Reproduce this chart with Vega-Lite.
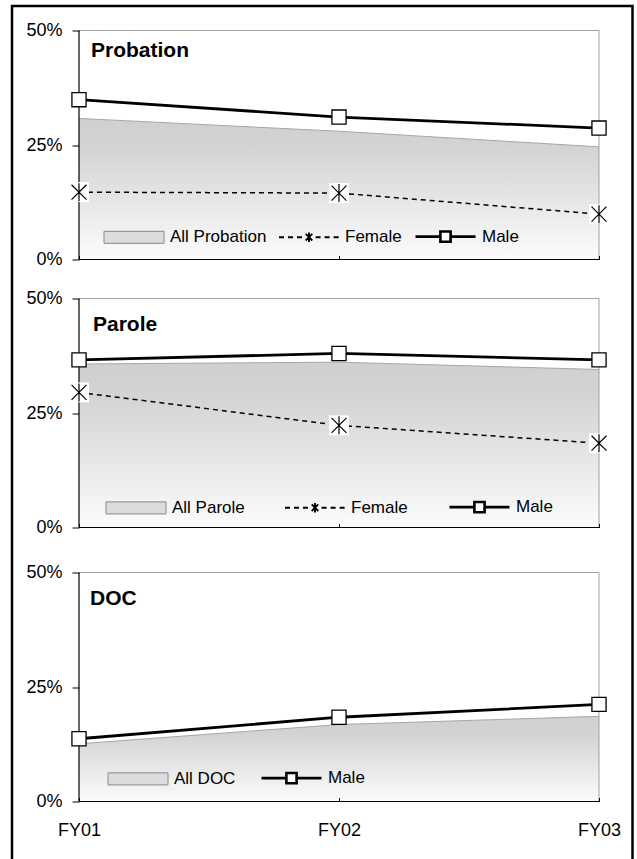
{
  "$schema": "https://vega.github.io/schema/vega-lite/v6.json",
  "padding": {"left": 12, "top": 5.5, "right": 0, "bottom": 0},
  "background": "white",
  "spacing": 21,
  "resolve": {"scale": {"fill": "independent", "stroke": "independent", "shape": "independent", "strokeDash": "independent", "strokeWidth": "independent"}},
  "data": {"values": [
    {"panel": "Probation", "kind": "All", "series": "All Probation", "year": "FY01", "value": 0.308},
    {"panel": "Probation", "kind": "All", "series": "All Probation", "year": "FY02", "value": 0.280},
    {"panel": "Probation", "kind": "All", "series": "All Probation", "year": "FY03", "value": 0.246},
    {"panel": "Probation", "kind": "Female", "series": "Female", "year": "FY01", "value": 0.147},
    {"panel": "Probation", "kind": "Female", "series": "Female", "year": "FY02", "value": 0.145},
    {"panel": "Probation", "kind": "Female", "series": "Female", "year": "FY03", "value": 0.099},
    {"panel": "Probation", "kind": "Male", "series": "Male", "year": "FY01", "value": 0.349},
    {"panel": "Probation", "kind": "Male", "series": "Male", "year": "FY02", "value": 0.311},
    {"panel": "Probation", "kind": "Male", "series": "Male", "year": "FY03", "value": 0.287},
    {"panel": "Parole", "kind": "All", "series": "All Parole", "year": "FY01", "value": 0.357},
    {"panel": "Parole", "kind": "All", "series": "All Parole", "year": "FY02", "value": 0.361},
    {"panel": "Parole", "kind": "All", "series": "All Parole", "year": "FY03", "value": 0.345},
    {"panel": "Parole", "kind": "Female", "series": "Female", "year": "FY01", "value": 0.295},
    {"panel": "Parole", "kind": "Female", "series": "Female", "year": "FY02", "value": 0.223},
    {"panel": "Parole", "kind": "Female", "series": "Female", "year": "FY03", "value": 0.184},
    {"panel": "Parole", "kind": "Male", "series": "Male", "year": "FY01", "value": 0.366},
    {"panel": "Parole", "kind": "Male", "series": "Male", "year": "FY02", "value": 0.380},
    {"panel": "Parole", "kind": "Male", "series": "Male", "year": "FY03", "value": 0.366},
    {"panel": "DOC", "kind": "All", "series": "All DOC", "year": "FY01", "value": 0.126},
    {"panel": "DOC", "kind": "All", "series": "All DOC", "year": "FY02", "value": 0.168},
    {"panel": "DOC", "kind": "All", "series": "All DOC", "year": "FY03", "value": 0.186},
    {"panel": "DOC", "kind": "Male", "series": "Male", "year": "FY01", "value": 0.137},
    {"panel": "DOC", "kind": "Male", "series": "Male", "year": "FY02", "value": 0.184},
    {"panel": "DOC", "kind": "Male", "series": "Male", "year": "FY03", "value": 0.212}
  ]},
  "vconcat": [
    {
      "width": 520, "height": 229,
      "title": {"text": "Probation", "anchor": "start", "frame": "group", "orient": "top", "offset": -72, "dx": 12, "fontSize": 21, "fontWeight": "bold", "color": "black", "baseline": "alphabetic"},
      "layer": [
        {"transform": [{"filter": "datum.panel === 'Probation' && datum.kind === 'All'"}],
         "mark": {"type": "area", "fill": {"x1": 0, "y1": 0, "x2": 0, "y2": 1, "gradient": "linear", "stops": [{"offset": 0, "color": "#bcbcbc"}, {"offset": 0.2, "color": "#c0c0c0"}, {"offset": 1, "color": "#fafafa"}]}, "line": {"color": "#a6a6a6", "strokeWidth": 1}},
         "encoding": {
           "x": {"field": "year", "type": "ordinal", "scale": {"type": "point", "padding": 0, "domain": ["FY01", "FY02", "FY03"]}, "axis": {"orient": "bottom", "labels": false, "ticks": true, "tickSize": 4, "offset": -4, "title": null, "zindex": 1, "domain": false, "grid": false}},
           "y": {"field": "value", "type": "quantitative", "scale": {"domain": [0, 0.5], "nice": false, "zero": false}, "axis": {"orient": "left", "values": [0, 0.25, 0.5], "format": ".0%", "tickSize": 7, "labelPadding": 10, "title": " ", "titleFontSize": 1, "titleAngle": 0, "titleAlign": "left", "titleBaseline": "bottom", "titleX": -67, "titleY": -23.5, "domain": false, "grid": false}}
         }},
        {"data": {"values": [{}]}, "mark": {"type": "rule", "color": "#a0a0a0", "strokeWidth": 1},
         "encoding": {"x": {"datum": "FY01", "type": "ordinal"}, "x2": {"datum": "FY03"}, "y": {"datum": 0.5, "type": "quantitative"}}},
        {"data": {"values": [{}]}, "mark": {"type": "rule", "color": "#a0a0a0", "strokeWidth": 1},
         "encoding": {"x": {"datum": "FY03", "type": "ordinal"}, "y": {"datum": 0, "type": "quantitative"}, "y2": {"datum": 0.5}}},
        {"data": {"values": [{}]}, "mark": {"type": "rule", "color": "black", "strokeWidth": 1.2},
         "encoding": {"x": {"datum": "FY01", "type": "ordinal"}, "y": {"datum": 0, "type": "quantitative"}, "y2": {"datum": 0.5}}},
        {"data": {"values": [{}]}, "mark": {"type": "rule", "color": "black", "strokeWidth": 1.2},
         "encoding": {"x": {"datum": "FY01", "type": "ordinal"}, "x2": {"datum": "FY03"}, "y": {"datum": 0, "type": "quantitative"}}},
        {"transform": [{"filter": "datum.panel === 'Probation' && datum.kind === 'Female'"}],
         "mark": {"type": "line", "color": "black", "strokeWidth": 1.5, "strokeDash": [5, 4]},
         "encoding": {"x": {"field": "year", "type": "ordinal"}, "y": {"field": "value", "type": "quantitative"}}},
        {"transform": [{"filter": "datum.panel === 'Probation' && datum.kind === 'Male'"}],
         "mark": {"type": "line", "color": "black", "strokeWidth": 2.8},
         "encoding": {"x": {"field": "year", "type": "ordinal"}, "y": {"field": "value", "type": "quantitative"}}},
        {"transform": [{"filter": "datum.panel === 'Probation' && datum.kind === 'Female'"}],
         "mark": {"type": "point", "shape": "square", "size": 400, "filled": true, "fill": "white", "strokeWidth": 0, "opacity": 1},
         "encoding": {"x": {"field": "year", "type": "ordinal"}, "y": {"field": "value", "type": "quantitative"}}},
        {"transform": [{"filter": "datum.panel === 'Probation' && datum.kind === 'Female'"}],
         "mark": {"type": "point", "shape": "M-0.83,-0.83L0.83,0.83M-0.83,0.83L0.83,-0.83M0,-1L0,1", "size": 324, "filled": false, "stroke": "black", "strokeWidth": 1.2, "opacity": 1},
         "encoding": {"x": {"field": "year", "type": "ordinal"}, "y": {"field": "value", "type": "quantitative"}}},
        {"transform": [{"filter": "datum.panel === 'Probation' && datum.kind === 'Male'"}],
         "mark": {"type": "point", "shape": "square", "size": 200, "filled": true, "fill": "white", "stroke": "black", "strokeWidth": 1.3, "opacity": 1},
         "encoding": {"x": {"field": "year", "type": "ordinal"}, "y": {"field": "value", "type": "quantitative"}}},
        {"transform": [{"filter": "datum.panel === 'none'"}],
         "mark": {"type": "point", "opacity": 1},
         "encoding": {
           "x": {"field": "year", "type": "ordinal"},
           "y": {"field": "value", "type": "quantitative"},
           "fill": {"field": "series", "type": "nominal", "scale": {"domain": ["All Probation", "Female", "Male"], "range": ["#dcdcdc", "white", "white"]}, "legend": {"title": null, "orient": "none", "legendX": 24, "legendY": 174.5, "direction": "horizontal", "columnPadding": 8, "padding": 0}},
           "stroke": {"field": "series", "type": "nominal", "scale": {"domain": ["All Probation", "Female", "Male"], "range": ["#999999", "black", "black"]}, "legend": {"title": null, "orient": "none", "legendX": 24, "legendY": 174.5, "direction": "horizontal", "columnPadding": 8, "padding": 0}},
           "shape": {"field": "series", "type": "nominal", "scale": {"domain": ["All Probation", "Female", "Male"], "range": ["M-1,-0.2H1V0.2H-1Z", "M-1,0H-0.22M0.22,0H1M0,0L0.11,0.11M0,0L-0.11,0.11M0,0L0.11,-0.11M0,0L-0.11,-0.11M0,0L0,0.16M0,0L0,-0.16", "M-1,0H-0.17M0.17,0H1M-0.17,-0.17H0.17V0.17H-0.17Z"]}, "legend": {"title": null, "orient": "none", "legendX": 24, "legendY": 174.5, "direction": "horizontal", "columnPadding": 8, "padding": 0}},
           "strokeDash": {"field": "series", "type": "nominal", "scale": {"domain": ["All Probation", "Female", "Male"], "range": [[1, 0], [5, 4], [1, 0]]}, "legend": {"title": null, "orient": "none", "legendX": 24, "legendY": 174.5, "direction": "horizontal", "columnPadding": 8, "padding": 0}},
           "strokeWidth": {"field": "series", "type": "nominal", "scale": {"domain": ["All Probation", "Female", "Male"], "range": [1.2, 2.6]}, "legend": {"title": null, "orient": "none", "legendX": 24, "legendY": 174.5, "direction": "horizontal", "columnPadding": 8, "padding": 0}}
         }},
        {"transform": [{"filter": "datum.panel === 'none'"}],
         "mark": {"type": "point", "opacity": 1},
         "encoding": {
           "x": {"field": "year", "type": "ordinal"},
           "y": {"field": "value", "type": "quantitative"},
           "color": {"field": "value", "type": "quantitative", "scale": {"domain": [0, 1], "range": ["rgba(255,255,255,0)", "rgba(255,255,255,0)"]}, "legend": {"title": null, "orient": "none", "legendX": -67, "legendY": -24.5, "direction": "vertical", "gradientLength": 870, "gradientThickness": 620.5, "gradientStrokeColor": "black", "gradientStrokeWidth": 2.5, "labelOpacity": 0, "labelFontSize": 1, "labelExpr": "''", "tickCount": 2, "padding": 0, "labelOverlap": false}}
         }}
      ]
    },
    {
      "width": 520, "height": 229,
      "title": {"text": "Parole", "anchor": "start", "frame": "group", "orient": "top", "offset": -62.4, "dx": 14, "fontSize": 21, "fontWeight": "bold", "color": "black", "baseline": "alphabetic"},
      "layer": [
        {"transform": [{"filter": "datum.panel === 'Parole' && datum.kind === 'All'"}],
         "mark": {"type": "area", "fill": {"x1": 0, "y1": 0, "x2": 0, "y2": 1, "gradient": "linear", "stops": [{"offset": 0, "color": "#bcbcbc"}, {"offset": 0.2, "color": "#c0c0c0"}, {"offset": 1, "color": "#fafafa"}]}, "line": {"color": "#a6a6a6", "strokeWidth": 1}},
         "encoding": {
           "x": {"field": "year", "type": "ordinal", "scale": {"type": "point", "padding": 0, "domain": ["FY01", "FY02", "FY03"]}, "axis": {"orient": "bottom", "labels": false, "ticks": true, "tickSize": 4, "offset": -4, "title": null, "zindex": 1, "domain": false, "grid": false}},
           "y": {"field": "value", "type": "quantitative", "scale": {"domain": [0, 0.5], "nice": false, "zero": false}, "axis": {"orient": "left", "values": [0, 0.25, 0.5], "format": ".0%", "tickSize": 7, "labelPadding": 10, "title": " ", "titleFontSize": 1, "titleAngle": 0, "titleAlign": "left", "titleBaseline": "bottom", "titleX": -67, "titleY": 243.5, "domain": false, "grid": false}}
         }},
        {"data": {"values": [{}]}, "mark": {"type": "rule", "color": "#a0a0a0", "strokeWidth": 1},
         "encoding": {"x": {"datum": "FY01", "type": "ordinal"}, "x2": {"datum": "FY03"}, "y": {"datum": 0.5, "type": "quantitative"}}},
        {"data": {"values": [{}]}, "mark": {"type": "rule", "color": "#a0a0a0", "strokeWidth": 1},
         "encoding": {"x": {"datum": "FY03", "type": "ordinal"}, "y": {"datum": 0, "type": "quantitative"}, "y2": {"datum": 0.5}}},
        {"data": {"values": [{}]}, "mark": {"type": "rule", "color": "black", "strokeWidth": 1.2},
         "encoding": {"x": {"datum": "FY01", "type": "ordinal"}, "y": {"datum": 0, "type": "quantitative"}, "y2": {"datum": 0.5}}},
        {"data": {"values": [{}]}, "mark": {"type": "rule", "color": "black", "strokeWidth": 1.2},
         "encoding": {"x": {"datum": "FY01", "type": "ordinal"}, "x2": {"datum": "FY03"}, "y": {"datum": 0, "type": "quantitative"}}},
        {"transform": [{"filter": "datum.panel === 'Parole' && datum.kind === 'Female'"}],
         "mark": {"type": "line", "color": "black", "strokeWidth": 1.5, "strokeDash": [5, 4]},
         "encoding": {"x": {"field": "year", "type": "ordinal"}, "y": {"field": "value", "type": "quantitative"}}},
        {"transform": [{"filter": "datum.panel === 'Parole' && datum.kind === 'Male'"}],
         "mark": {"type": "line", "color": "black", "strokeWidth": 2.8},
         "encoding": {"x": {"field": "year", "type": "ordinal"}, "y": {"field": "value", "type": "quantitative"}}},
        {"transform": [{"filter": "datum.panel === 'Parole' && datum.kind === 'Female'"}],
         "mark": {"type": "point", "shape": "square", "size": 400, "filled": true, "fill": "white", "strokeWidth": 0, "opacity": 1},
         "encoding": {"x": {"field": "year", "type": "ordinal"}, "y": {"field": "value", "type": "quantitative"}}},
        {"transform": [{"filter": "datum.panel === 'Parole' && datum.kind === 'Female'"}],
         "mark": {"type": "point", "shape": "M-0.83,-0.83L0.83,0.83M-0.83,0.83L0.83,-0.83M0,-1L0,1", "size": 324, "filled": false, "stroke": "black", "strokeWidth": 1.2, "opacity": 1},
         "encoding": {"x": {"field": "year", "type": "ordinal"}, "y": {"field": "value", "type": "quantitative"}}},
        {"transform": [{"filter": "datum.panel === 'Parole' && datum.kind === 'Male'"}],
         "mark": {"type": "point", "shape": "square", "size": 200, "filled": true, "fill": "white", "stroke": "black", "strokeWidth": 1.3, "opacity": 1},
         "encoding": {"x": {"field": "year", "type": "ordinal"}, "y": {"field": "value", "type": "quantitative"}}},
        {"transform": [{"filter": "datum.panel === 'none'"}],
         "mark": {"type": "point", "opacity": 1},
         "encoding": {
           "x": {"field": "year", "type": "ordinal"},
           "y": {"field": "value", "type": "quantitative"},
           "fill": {"field": "series", "type": "nominal", "scale": {"domain": ["All Parole", "Female", "Male"], "range": ["#dcdcdc", "white", "white"]}, "legend": {"title": null, "orient": "none", "legendX": 26, "legendY": 177, "direction": "horizontal", "columnPadding": 36, "padding": 0}},
           "stroke": {"field": "series", "type": "nominal", "scale": {"domain": ["All Parole", "Female", "Male"], "range": ["#999999", "black", "black"]}, "legend": {"title": null, "orient": "none", "legendX": 26, "legendY": 177, "direction": "horizontal", "columnPadding": 36, "padding": 0}},
           "shape": {"field": "series", "type": "nominal", "scale": {"domain": ["All Parole", "Female", "Male"], "range": ["M-1,-0.2H1V0.2H-1Z", "M-1,0H-0.22M0.22,0H1M0,0L0.11,0.11M0,0L-0.11,0.11M0,0L0.11,-0.11M0,0L-0.11,-0.11M0,0L0,0.16M0,0L0,-0.16", "M-1,0H-0.17M0.17,0H1M-0.17,-0.17H0.17V0.17H-0.17Z"]}, "legend": {"title": null, "orient": "none", "legendX": 26, "legendY": 177, "direction": "horizontal", "columnPadding": 36, "padding": 0}},
           "strokeDash": {"field": "series", "type": "nominal", "scale": {"domain": ["All Parole", "Female", "Male"], "range": [[1, 0], [5, 4], [1, 0]]}, "legend": {"title": null, "orient": "none", "legendX": 26, "legendY": 177, "direction": "horizontal", "columnPadding": 36, "padding": 0}},
           "strokeWidth": {"field": "series", "type": "nominal", "scale": {"domain": ["All Parole", "Female", "Male"], "range": [1.2, 2.6]}, "legend": {"title": null, "orient": "none", "legendX": 26, "legendY": 177, "direction": "horizontal", "columnPadding": 36, "padding": 0}}
         }}
      ]
    },
    {
      "width": 520, "height": 229,
      "title": {"text": "DOC", "anchor": "start", "frame": "group", "orient": "top", "offset": -62.3, "dx": 11, "fontSize": 21, "fontWeight": "bold", "color": "black", "baseline": "alphabetic"},
      "layer": [
        {"transform": [{"filter": "datum.panel === 'DOC' && datum.kind === 'All'"}],
         "mark": {"type": "area", "fill": {"x1": 0, "y1": 0, "x2": 0, "y2": 1, "gradient": "linear", "stops": [{"offset": 0, "color": "#bcbcbc"}, {"offset": 0.2, "color": "#c0c0c0"}, {"offset": 1, "color": "#fafafa"}]}, "line": {"color": "#a6a6a6", "strokeWidth": 1}},
         "encoding": {
           "x": {"field": "year", "type": "ordinal", "scale": {"type": "point", "padding": 0, "domain": ["FY01", "FY02", "FY03"]}, "axis": {"orient": "bottom", "labels": true, "labelAngle": 0, "labelPadding": 20, "ticks": true, "tickSize": 4, "offset": -4, "title": null, "zindex": 1, "domain": false, "grid": false}},
           "y": {"field": "value", "type": "quantitative", "scale": {"domain": [0, 0.5], "nice": false, "zero": false}, "axis": {"orient": "left", "values": [0, 0.25, 0.5], "format": ".0%", "tickSize": 7, "labelPadding": 10, "title": " ", "titleFontSize": 1, "titleAngle": 0, "titleAlign": "left", "titleBaseline": "bottom", "titleX": -67, "titleY": 0, "domain": false, "grid": false}}
         }},
        {"data": {"values": [{}]}, "mark": {"type": "rule", "color": "#a0a0a0", "strokeWidth": 1},
         "encoding": {"x": {"datum": "FY01", "type": "ordinal"}, "x2": {"datum": "FY03"}, "y": {"datum": 0.5, "type": "quantitative"}}},
        {"data": {"values": [{}]}, "mark": {"type": "rule", "color": "#a0a0a0", "strokeWidth": 1},
         "encoding": {"x": {"datum": "FY03", "type": "ordinal"}, "y": {"datum": 0, "type": "quantitative"}, "y2": {"datum": 0.5}}},
        {"data": {"values": [{}]}, "mark": {"type": "rule", "color": "black", "strokeWidth": 1.2},
         "encoding": {"x": {"datum": "FY01", "type": "ordinal"}, "y": {"datum": 0, "type": "quantitative"}, "y2": {"datum": 0.5}}},
        {"data": {"values": [{}]}, "mark": {"type": "rule", "color": "black", "strokeWidth": 1.2},
         "encoding": {"x": {"datum": "FY01", "type": "ordinal"}, "x2": {"datum": "FY03"}, "y": {"datum": 0, "type": "quantitative"}}},
        {"transform": [{"filter": "datum.panel === 'DOC' && datum.kind === 'Male'"}],
         "mark": {"type": "line", "color": "black", "strokeWidth": 2.8},
         "encoding": {"x": {"field": "year", "type": "ordinal"}, "y": {"field": "value", "type": "quantitative"}}},
        {"transform": [{"filter": "datum.panel === 'DOC' && datum.kind === 'Male'"}],
         "mark": {"type": "point", "shape": "square", "size": 200, "filled": true, "fill": "white", "stroke": "black", "strokeWidth": 1.3, "opacity": 1},
         "encoding": {"x": {"field": "year", "type": "ordinal"}, "y": {"field": "value", "type": "quantitative"}}},
        {"transform": [{"filter": "datum.panel === 'none'"}],
         "mark": {"type": "point", "opacity": 1},
         "encoding": {
           "x": {"field": "year", "type": "ordinal"},
           "y": {"field": "value", "type": "quantitative"},
           "fill": {"field": "series", "type": "nominal", "scale": {"domain": ["All DOC", "Male"], "range": ["#dcdcdc", "white"]}, "legend": {"title": null, "orient": "none", "legendX": 28, "legendY": 174, "direction": "horizontal", "columnPadding": 20, "padding": 0}},
           "stroke": {"field": "series", "type": "nominal", "scale": {"domain": ["All DOC", "Male"], "range": ["#999999", "black"]}, "legend": {"title": null, "orient": "none", "legendX": 28, "legendY": 174, "direction": "horizontal", "columnPadding": 20, "padding": 0}},
           "shape": {"field": "series", "type": "nominal", "scale": {"domain": ["All DOC", "Male"], "range": ["M-1,-0.2H1V0.2H-1Z", "M-1,0H-0.17M0.17,0H1M-0.17,-0.17H0.17V0.17H-0.17Z"]}, "legend": {"title": null, "orient": "none", "legendX": 28, "legendY": 174, "direction": "horizontal", "columnPadding": 20, "padding": 0}},
           "strokeDash": {"field": "series", "type": "nominal", "scale": {"domain": ["All DOC", "Male"], "range": [[1, 0], [1, 0]]}, "legend": {"title": null, "orient": "none", "legendX": 28, "legendY": 174, "direction": "horizontal", "columnPadding": 20, "padding": 0}},
           "strokeWidth": {"field": "series", "type": "nominal", "scale": {"domain": ["All DOC", "Male"], "range": [1.2, 2.6]}, "legend": {"title": null, "orient": "none", "legendX": 28, "legendY": 174, "direction": "horizontal", "columnPadding": 20, "padding": 0}}
         }}
      ]
    }
  ],
  "config": {
    "font": "Liberation Sans",
    "view": {"stroke": null},
    "axis": {"labelFontSize": 18, "labelColor": "black", "tickColor": "black", "labelFont": "Liberation Sans", "grid": false, "domain": false},
    "legend": {"labelFontSize": 17, "labelColor": "black", "labelFont": "Liberation Sans", "symbolSize": 3600, "labelOffset": 5},
    "title": {"color": "black", "font": "Liberation Sans"}
  }
}
